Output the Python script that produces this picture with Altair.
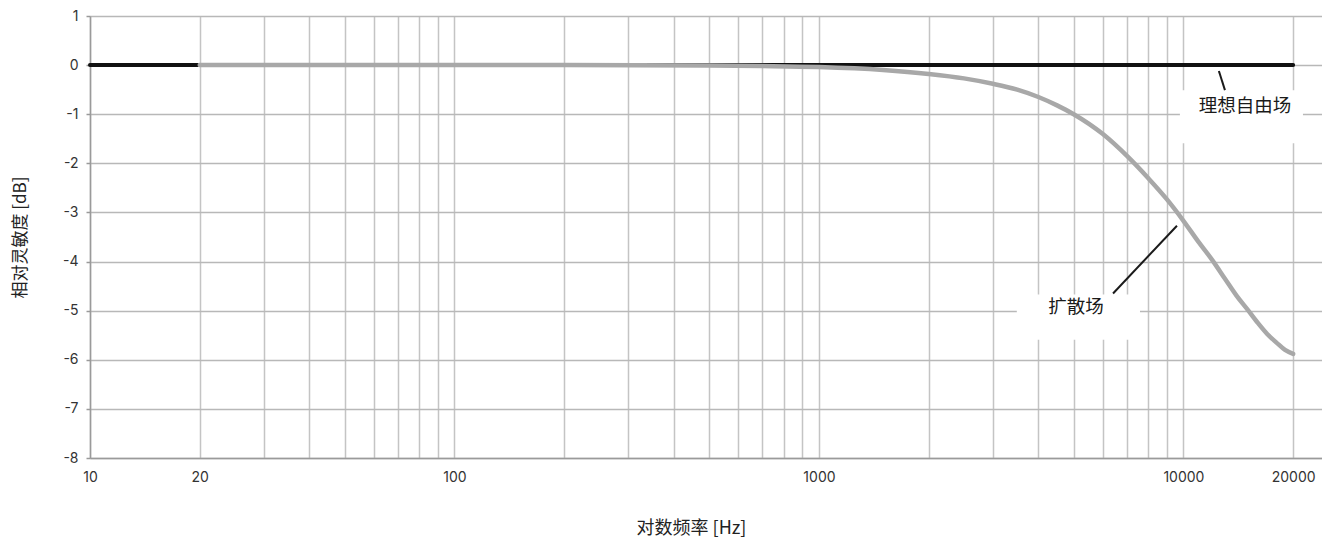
import altair as alt
import pandas as pd

# ---- data ----
freq_diffuse = [20, 50, 100, 200, 500, 700, 1000, 1500, 2000, 2500, 3000, 3500, 4000,
                4500, 5000, 6000, 7000, 8000, 9000, 10000, 11000, 12000, 13000, 14000,
                15000, 16000, 17000, 18000, 19000, 20000]
db_diffuse = [0, 0, 0, 0, -0.01, -0.02, -0.04, -0.1, -0.18, -0.27, -0.38, -0.5, -0.65,
              -0.82, -1.0, -1.4, -1.85, -2.3, -2.73, -3.17, -3.6, -3.97, -4.35, -4.7,
              -4.98, -5.25, -5.48, -5.65, -5.8, -5.88]
freq_free = [10, 20000]
db_free = [0, 0]

grid_freqs = [10, 20, 30, 40, 50, 60, 70, 80, 90,
              100, 200, 300, 400, 500, 600, 700, 800, 900,
              1000, 2000, 3000, 4000, 5000, 6000, 7000, 8000, 9000,
              10000, 20000]
label_freqs = [10, 20, 100, 1000, 10000, 20000]
y_ticks = [1, 0, -1, -2, -3, -4, -5, -6, -7, -8]

ann_text = ["理想自由场", "扩散场"]
ann_f = [14750, 5070]
ann_db = [-0.83, -4.92]
box_f1 = [9780, 3490]
box_f2 = [21280, 7600]
box_db1 = [-0.51, -4.67]
box_db2 = [-1.59, -5.59]
lead_f1 = [12510, 6410]
lead_f2 = [13000, 9600]
lead_db1 = [-0.12, -4.65]
lead_db2 = [-0.51, -3.27]

FONT = "Inter, 'Noto Sans CJK SC', sans-serif"
CJK = "'Noto Sans CJK SC', sans-serif"

df_diffuse = pd.DataFrame({"f": freq_diffuse, "db": db_diffuse})
df_free = pd.DataFrame({"f": freq_free, "db": db_free})
df_ann = pd.DataFrame({"text": ann_text, "f": ann_f, "db": ann_db,
                       "bf1": box_f1, "bf2": box_f2, "bd1": box_db1, "bd2": box_db2,
                       "lf1": lead_f1, "lf2": lead_f2, "ld1": lead_db1, "ld2": lead_db2})

xscale = alt.Scale(type="log", domain=[10, 24000], nice=False)
yscale = alt.Scale(domain=[-8, 1], nice=False)

label_list = "[" + ",".join(str(v) for v in label_freqs) + "]"

xaxis = alt.Axis(
    values=grid_freqs,
    labelExpr=f"indexof({label_list}, datum.value) >= 0 ? format(datum.value, 'd') : ''",
    labelOverlap=False, labelFlush=False, tickSize=0, ticks=False, labelPadding=12,
    grid=True, gridColor="#c4c4c4", gridWidth=1.5,
    domainColor="#9a9a9a", domainWidth=1.5,
    labelFont=FONT, labelFontSize=14, labelColor="#333333",
    title="对数频率 [Hz]", titleFont=CJK, titleFontSize=18, titleFontWeight="normal",
    titleColor="#222222", titleX=601, titleY=70, titleAlign="center", titleBaseline="middle",
)
yaxis = alt.Axis(
    values=y_ticks, labelExpr="datum.value + ''",
    grid=True, gridColor="#b8b8b8", gridWidth=1.5,
    domainColor="#9a9a9a", domainWidth=1.5,
    tickSize=4, tickColor="#9a9a9a", tickWidth=1.5, labelPadding=8,
    labelFont=FONT, labelFontSize=14, labelColor="#333333",
    title="相对灵敏度 [dB]", titleFont=CJK, titleFontSize=17, titleFontWeight="normal",
    titleColor="#222222", titleAngle=-90, titleX=-70, titleY=221,
    titleAlign="center", titleBaseline="middle",
)


def X(field):
    return alt.X(f"{field}:Q", scale=xscale, axis=xaxis)


def Y(field):
    return alt.Y(f"{field}:Q", scale=yscale, axis=yaxis)


boxes = alt.Chart(df_ann).mark_rect(color="white").encode(
    x=X("bf1"), x2="bf2", y=Y("bd1"), y2="bd2")

free_line = alt.Chart(df_free).mark_line(color="#111111", strokeWidth=4, strokeCap="round").encode(
    x=X("f"), y=Y("db"))

diffuse_line = alt.Chart(df_diffuse).mark_line(
    color="#a8a8a8", strokeWidth=4.5, strokeCap="round", interpolate="monotone").encode(
    x=X("f"), y=Y("db"))

leaders = alt.Chart(df_ann).mark_rule(color="#1a1a1a", strokeWidth=2).encode(
    x=X("lf1"), x2="lf2", y=Y("ld1"), y2="ld2")

texts = alt.Chart(df_ann).mark_text(font=CJK, fontSize=18.5, color="#1a1a1a",
                                    align="center", baseline="middle").encode(
    x=X("f"), y=Y("db"), text="text:N")

chart = alt.layer(boxes, free_line, diffuse_line, leaders, texts).properties(
    width=1232, height=442,
    autosize=alt.AutoSizeParams(type="none"),
    padding={"left": 82, "top": 8, "right": 0, "bottom": 85},
).configure_view(stroke=None).configure(background="white")

chart.save("out.html", embed_options={"renderer": "svg", "actions": False})
